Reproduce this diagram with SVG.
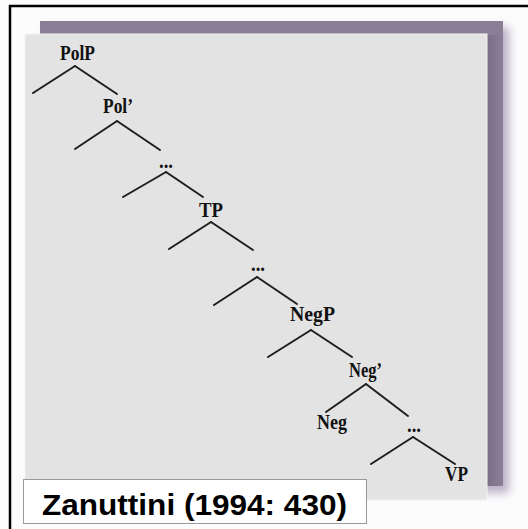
<svg xmlns="http://www.w3.org/2000/svg" width="528" height="529" viewBox="0 0 528 529">
<defs>
<filter id="blur" x="-10%" y="-10%" width="120%" height="120%"><feGaussianBlur stdDeviation="5"/></filter>
<linearGradient id="side" x1="0" y1="0" x2="1" y2="0"><stop offset="0" stop-color="#7a7086"/><stop offset="1" stop-color="#8a7f97"/></linearGradient>
</defs>
<style>
.lbl{font-family:"Liberation Serif","Times New Roman",serif;font-weight:bold;font-size:22px;fill:#111}
.br{stroke:#1e1e1e;stroke-width:2;stroke-linecap:round;fill:none}
.cap{font-family:"Liberation Sans",Arial,sans-serif;font-weight:bold;font-size:30px;fill:#000}
</style>
<rect x="0" y="0" width="528" height="529" fill="#fcfcfd"/>
<rect x="10" y="6" width="530" height="530" fill="none" stroke="#000" stroke-width="2.5"/>
<g id="backdrop">
<rect x="46" y="27" width="463" height="466" fill="#b9b0c4" filter="url(#blur)"/>
<rect x="40" y="21" width="463" height="465" fill="#8a7f97"/>
<rect x="487" y="35" width="16" height="451" fill="url(#side)"/>
<rect x="25" y="34" width="462" height="466" fill="#e3e3e3" stroke="#f4f4f4" stroke-width="1"/>
</g>
<g id="connectors">
<line class="br" x1="75" y1="66" x2="33" y2="93"/><line class="br" x1="75" y1="66" x2="117" y2="94"/>
<line class="br" x1="117" y1="121" x2="75" y2="149"/><line class="br" x1="117" y1="121" x2="160" y2="150"/>
<line class="br" x1="166" y1="172" x2="123" y2="197"/><line class="br" x1="166" y1="172" x2="203" y2="197"/>
<line class="br" x1="211" y1="222" x2="169" y2="249"/><line class="br" x1="211" y1="222" x2="253" y2="250"/>
<line class="br" x1="257" y1="277" x2="214" y2="305"/><line class="br" x1="257" y1="277" x2="297" y2="304"/>
<line class="br" x1="311" y1="330" x2="268" y2="357"/><line class="br" x1="311" y1="330" x2="352" y2="357"/>
<line class="br" x1="366" y1="384" x2="326" y2="412"/><line class="br" x1="366" y1="384" x2="408" y2="416"/>
<line class="br" x1="413" y1="437" x2="371" y2="464"/><line class="br" x1="413" y1="437" x2="455" y2="464"/>
</g>
<g id="PolP"><text class="lbl" x="60" y="60" textLength="35" lengthAdjust="spacingAndGlyphs">PolP</text></g>
<g id="PolBar"><text class="lbl" x="103" y="113" textLength="30" lengthAdjust="spacingAndGlyphs">Pol’</text></g>
<g id="dots1"><text class="lbl" x="159" y="168" textLength="14" lengthAdjust="spacingAndGlyphs">...</text></g>
<g id="TP"><text class="lbl" x="199" y="217" textLength="24" lengthAdjust="spacingAndGlyphs">TP</text></g>
<g id="dots2"><text class="lbl" x="251" y="271" textLength="14" lengthAdjust="spacingAndGlyphs">...</text></g>
<g id="NegP"><text class="lbl" x="290" y="321" textLength="45" lengthAdjust="spacingAndGlyphs">NegP</text></g>
<g id="NegBar"><text class="lbl" x="349" y="377" textLength="33" lengthAdjust="spacingAndGlyphs">Neg’</text></g>
<g id="Neg"><text class="lbl" x="317" y="429" textLength="30" lengthAdjust="spacingAndGlyphs">Neg</text></g>
<g id="dots3"><text class="lbl" x="407" y="432" textLength="14" lengthAdjust="spacingAndGlyphs">...</text></g>
<g id="VP"><text class="lbl" x="445" y="481" textLength="23" lengthAdjust="spacingAndGlyphs">VP</text></g>
<g id="caption">
<rect x="23.5" y="479.5" width="343" height="44" fill="#fff" stroke="#9a9a9a" stroke-width="1"/>
<text class="cap" x="42" y="515" textLength="305" lengthAdjust="spacingAndGlyphs">Zanuttini (1994: 430)</text>
</g>
</svg>
